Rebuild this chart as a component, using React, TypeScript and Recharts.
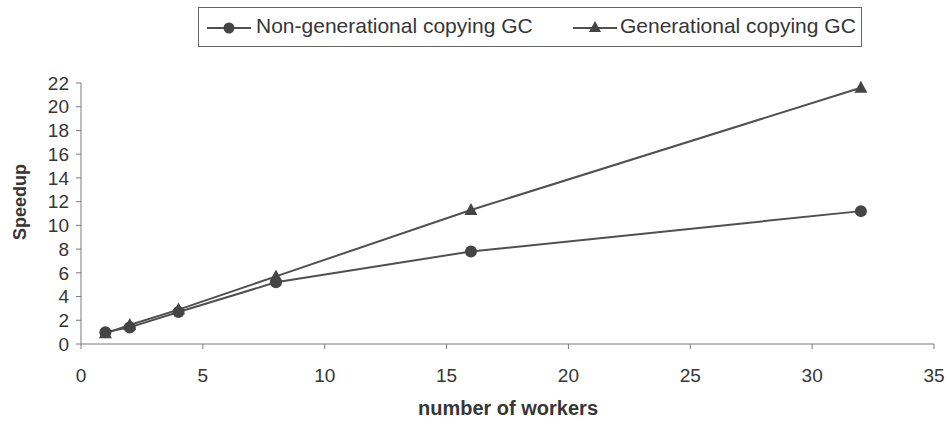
import React from "react";
import { LineChart, Line, XAxis, YAxis, Label } from "recharts";

const workers = [1, 2, 4, 8, 16, 32];
const nonGenSpeedup = [1.0, 1.4, 2.7, 5.2, 7.8, 11.2];
const genSpeedup = [0.9, 1.6, 2.9, 5.7, 11.3, 21.6];
const xTicks = [0, 5, 10, 15, 20, 25, 30, 35];
const yTicks = [0, 2, 4, 6, 8, 10, 12, 14, 16, 18, 20, 22];

const nonGenData = workers.map((w, i) => ({ x: w, y: nonGenSpeedup[i] }));
const genData = workers.map((w, i) => ({ x: w, y: genSpeedup[i] }));

const LINE = "#505050";
const MARK = "#454545";
const AXIS = "#7a7a7a";
const TEXT = "#363636";
const FONT = "Arial, 'Liberation Sans', sans-serif";

const CircleDot = (props: any) => {
  const { cx, cy } = props;
  if (cx == null || cy == null) return null;
  return <circle cx={cx} cy={cy} r={6} fill={MARK} />;
};

const TriangleDot = (props: any) => {
  const { cx, cy } = props;
  if (cx == null || cy == null) return null;
  return (
    <polygon
      points={`${cx},${cy - 7} ${cx - 6.5},${cy + 5} ${cx + 6.5},${cy + 5}`}
      fill={MARK}
    />
  );
};

// legend drawn by hand, boxed like the original
const LegendBox = () => (
  <div
    style={{
      position: "absolute",
      left: 198,
      top: 7,
      width: 664,
      height: 40,
      border: "1.5px solid #666",
      boxSizing: "border-box",
      fontFamily: FONT,
      fontSize: 21,
      color: TEXT,
    }}
  >
    <svg width={46} height={20} style={{ position: "absolute", left: 8, top: 10 }}>
      <line x1={0} y1={10} x2={44} y2={10} stroke={LINE} strokeWidth={2} />
      <circle cx={22} cy={10} r={5.5} fill={MARK} />
    </svg>
    <span style={{ position: "absolute", left: 57, top: 6, whiteSpace: "nowrap" }}>
      Non-generational copying GC
    </span>
    <svg width={46} height={20} style={{ position: "absolute", left: 374, top: 10 }}>
      <line x1={0} y1={10} x2={44} y2={10} stroke={LINE} strokeWidth={2} />
      <polygon points="22,3 16,14 28,14" fill={MARK} />
    </svg>
    <span style={{ position: "absolute", left: 421, top: 6, whiteSpace: "nowrap" }}>
      Generational copying GC
    </span>
  </div>
);

export default function App() {
  return (
    <div
      style={{
        position: "absolute",
        left: 0,
        top: 0,
        width: 948,
        height: 426,
        background: "#fff",
      }}
    >
      <LineChart
        width={948}
        height={426}
        margin={{ top: 83, right: 14, left: 0, bottom: 52 }}
      >
        <XAxis
          type="number"
          dataKey="x"
          domain={[0, 35]}
          ticks={xTicks}
          interval={0}
          allowDuplicatedCategory={false}
          stroke={AXIS}
          tickSize={5}
          tickMargin={20}
          tick={{ fill: TEXT, fontSize: 19, fontFamily: FONT }}
          height={30}
        >
          <Label
            content={() => (
              <text
                x={508}
                y={408}
                textAnchor="middle"
                dominantBaseline="central"
                fill={TEXT}
                fontSize={20}
                fontWeight="bold"
                fontFamily={FONT}
              >
                number of workers
              </text>
            )}
          />
        </XAxis>
        <YAxis
          type="number"
          dataKey="y"
          domain={[0, 22]}
          ticks={yTicks}
          interval={0}
          stroke={AXIS}
          tickSize={5}
          tickMargin={7}
          tick={{ fill: TEXT, fontSize: 19, fontFamily: FONT }}
          width={81}
        >
          <Label
            content={() => (
              <text
                x={20}
                y={202}
                transform="rotate(-90 20 202)"
                textAnchor="middle"
                dominantBaseline="central"
                fill={TEXT}
                fontSize={18}
                fontWeight="bold"
                fontFamily={FONT}
              >
                Speedup
              </text>
            )}
          />
        </YAxis>
        <Line
          data={nonGenData}
          dataKey="y"
          name="Non-generational copying GC"
          stroke={LINE}
          strokeWidth={2}
          dot={<CircleDot />}
          isAnimationActive={false}
        />
        <Line
          data={genData}
          dataKey="y"
          name="Generational copying GC"
          stroke={LINE}
          strokeWidth={2}
          dot={<TriangleDot />}
          isAnimationActive={false}
        />
      </LineChart>
      <LegendBox />
    </div>
  );
}
